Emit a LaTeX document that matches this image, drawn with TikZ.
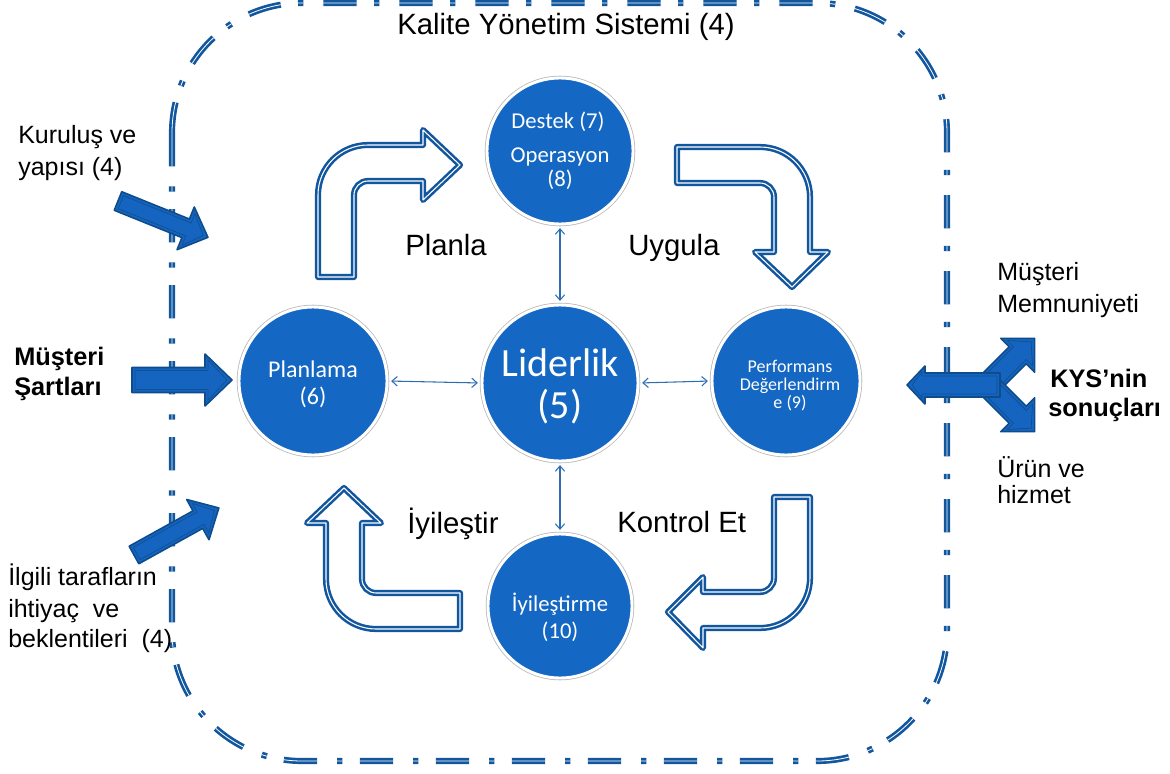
\documentclass[tikz,border=0pt]{standalone}
\usepackage{fontspec}
\setmainfont{Liberation Sans}
\newfontfamily\carl{Carlito}
\usetikzlibrary{arrows.meta}
\definecolor{cfill}{HTML}{1467C2}
\definecolor{bdark}{HTML}{12569E}
\definecolor{afill}{HTML}{1565C0}
\definecolor{adark}{HTML}{0E4C8C}
\definecolor{conncol}{HTML}{2E6DB4}
\newcommand\blkarrow[6]{%
  \begin{scope}[shift={(#1)},rotate=#2]
    \fill[afill,draw=adark,line width=1.2pt,line join=round] (0,-#4) -- ({#3-#6},-#4) -- ({#3-#6},-#5) -- (#3,0) -- ({#3-#6},#5) -- ({#3-#6},#4) -- (0,#4) -- cycle;
    \draw[adark!80!afill,line width=0.6pt] (3,{-#4+3}) -- ({#3-#6+3},{-#4+3}) -- ({#3-#6+3},{-#5+6}) -- ({#3-5},0) -- ({#3-#6+3},{#5-6}) -- ({#3-#6+3},{#4-3}) -- (3,{#4-3}) -- cycle;
  \end{scope}}
\begin{document}
\begin{tikzpicture}[x=0.75pt,y=-0.75pt,
  circ/.style={circle, fill=cfill, draw=white, line width=2.2pt, preaction={draw=gray!55, line width=3.4pt}, inner sep=0pt},
  connline/.style={draw=conncol, line width=0.8pt, {Straight Barb[length=4pt,width=7pt]}-{Straight Barb[length=4pt,width=7pt]}, shorten >=2pt, shorten <=2pt},
  bigarrow/.style={fill=white, draw=bdark, double=white, double distance=0.8pt, line width=1.9pt, line join=round},
  border/.style={draw=bdark, double=white, double distance=0.6pt, line width=2pt, dash pattern=on 25pt off 15pt on 4pt off 13pt},
  lbl/.style={font=\fontsize{22pt}{26pt}\selectfont, anchor=base west, inner sep=0pt},
  side/.style={font=\fontsize{18.75pt}{22pt}\selectfont, anchor=base west, inner sep=0pt},
  sideb/.style={font=\fontsize{19pt}{23pt}\selectfont\bfseries, anchor=base west, inner sep=0pt},
  ctext/.style={text=white, inner sep=0pt, anchor=base},
  cmid/.style={ctext, font=\carl\fontsize{17pt}{19pt}\selectfont},
]
\useasboundingbox (0,0) rectangle (1170,774);

% system border
\draw[border, rounded corners=97.5pt] (172,3) rectangle (947,761);

% title and cycle labels
\node[lbl] (title) at (397,35) {Kalite Yönetim Sistemi (4)};
\node[lbl] (planla) at (405,255) {Planla};
\node[lbl] (uygula) at (628,255) {Uygula};
\node[lbl] (iyil) at (407,533) {İyileştir};
\node[lbl] (kontrol) at (617,532) {Kontrol Et};

% big outlined bent arrows
\draw[bigarrow] (318,277) -- (318,195) arc (180:270:50) -- (423,145) -- (423,130) -- (460,165) -- (423,200) -- (423,181) -- (368,181) arc (270:180:14) -- (354,277) -- cycle;
\draw[bigarrow] (677,147) -- (760,147) arc (-90:0:50) -- (810,252) -- (828,252) -- (792,287) -- (755,252) -- (774,252) -- (774,197) arc (0:-90:14) -- (677,183) -- cycle;
\draw[bigarrow] (774,497) -- (810,497) -- (810,578) arc (0:90:50) -- (703,628) -- (703,648) -- (668,612) -- (703,577) -- (703,592) -- (760,592) arc (90:0:14) -- cycle;
\draw[bigarrow] (460,593) -- (460,629) -- (376,629) arc (90:180:50) -- (326,523) -- (307,523) -- (344,488) -- (381,523) -- (362,523) -- (362,579) arc (180:90:14) -- cycle;

% circles
\node[circ, minimum size=109.5pt] (destek) at (560,151) {};
\node[circ, minimum size=111pt] (plan) at (313,381) {};
\node[circ, minimum size=117pt] (lider) at (560,383) {};
\node[circ, minimum size=111pt] (perf) at (786,381) {};
\node[circ, minimum size=108pt] (iyi) at (560,606) {};

% circle texts
\node[cmid] (t7) at (558,128) {Destek (7)};
\node[cmid] (t8a) at (560,162) {Operasyon};
\node[cmid] (t8b) at (560,186) {(8)};
\node[ctext, font=\carl\fontsize{18pt}{20pt}\selectfont] (t6a) at (313,377) {Planlama};
\node[ctext, font=\carl\fontsize{18pt}{20pt}\selectfont] (t6b) at (313,404) {(6)};
\node[ctext, font=\carl\fontsize{30pt}{32pt}\selectfont] (t5a) at (560,376) {Liderlik};
\node[ctext, font=\carl\fontsize{30pt}{32pt}\selectfont] (t5b) at (560,418) {(5)};
\node[ctext, font=\carl\fontsize{13.5pt}{15pt}\selectfont] (t9a) at (790,372) {Performans};
\node[ctext, font=\carl\fontsize{13.5pt}{15pt}\selectfont] (t9b) at (790,390) {Değerlendirm};
\node[ctext, font=\carl\fontsize{13.5pt}{15pt}\selectfont] (t9c) at (790,408) {e (9)};
\node[cmid] (t10a) at (560,611) {İyileştirme};
\node[cmid] (t10b) at (560,638) {(10)};

% connectors
\draw[connline] (destek) -- (lider);
\draw[connline] (lider) -- (iyi);
\draw[connline] (plan.east) -- (lider.west);
\draw[connline] (lider.east) -- (perf.west);

% input arrows
\blkarrow{118,201}{-22}{97}{10}{23}{24}
\blkarrow{132,380}{0}{100}{12.5}{26}{27}
\blkarrow{134,555}{29}{97}{10}{23}{24}

% output arrows
\blkarrow{988,385}{45}{66}{12}{24}{24}
\blkarrow{988,385}{-45}{66}{12}{24}{24}
\blkarrow{1000,385}{180}{93}{12}{19}{18}

% side texts
\node[side] (k1) at (18,143) {Kuruluş ve};
\node[side] (k2) at (18,175) {yapısı (4)};
\node[sideb] (m1) at (14,365) {Müşteri};
\node[sideb] (m2) at (14,395) {Şartları};
\node[side] (i1) at (8,585) {İlgili tarafların};
\node[side] (i2) at (8,617) {ihtiyaç\ \ ve};
\node[side] (i3) at (8,647) {beklentileri\ \ (4)};
\node[side] (r1) at (997,280) {Müşteri};
\node[side] (r2) at (997,312) {Memnuniyeti};
\node[sideb] (r3) at (1050,387) {KYS’nin};
\node[sideb] (r4) at (1048,416) {sonuçları};
\node[side] (r5) at (997,477) {Ürün ve};
\node[side] (r6) at (997,503) {hizmet};
\end{tikzpicture}
\end{document}
